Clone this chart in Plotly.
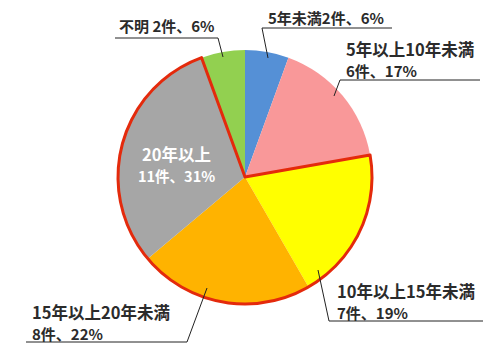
import plotly.graph_objects as go

# Data
categories = ["5年未満", "5年以上10年未満", "10年以上15年未満", "15年以上20年未満", "20年以上", "不明"]
counts = [2, 6, 7, 8, 11, 2]
percents = [6, 17, 19, 22, 31, 6]
colors = ["#5590D6", "#F99899", "#FFFF00", "#FFB300", "#A6A6A6", "#92D050"]
# slices enclosed by the red outline (10年以上 group)
highlight = [False, False, True, True, True, False]

W, H = 490, 360
def px(x):
    return x / W
def py(y):
    return 1 - y / H

cx, cy, r = 245, 177, 127
domain = dict(x=[px(cx - r), px(cx + r)], y=[py(cy + r), py(cy - r)])

fig = go.Figure()
fig.add_trace(go.Pie(
    values=counts, labels=categories, sort=False, direction="clockwise", rotation=0,
    marker=dict(colors=colors, line=dict(width=0)),
    textinfo="none", hoverinfo="label+value+percent", showlegend=False, domain=domain,
))

# Red outline around the highlighted group, built from the same data
groups = []
for v, h in zip(counts, highlight):
    if groups and groups[-1][1] == h:
        groups[-1][0] += v
    else:
        groups.append([v, h])
fig.add_trace(go.Pie(
    values=[g[0] for g in groups], sort=False, direction="clockwise", rotation=0,
    marker=dict(colors=["rgba(0,0,0,0)"] * len(groups),
                line=dict(color=["#E42A0C" if g[1] else "rgba(0,0,0,0)" for g in groups],
                          width=[3 if g[1] else 0 for g in groups])),
    textinfo="none", hoverinfo="skip", showlegend=False, domain=domain,
))

font = "Noto Sans CJK JP, Noto Sans, sans-serif"
txt = "#2b2b2b"

def label(x, y, text, size, color=txt, anchor="left"):
    fig.add_annotation(x=px(x), y=py(y), xref="paper", yref="paper", text=f"<b>{text}</b>",
                       showarrow=False, xanchor=anchor, yanchor="middle",
                       font=dict(family=font, size=size, color=color))

def label2(x, y, line1, line2, s1, s2, color=txt, anchor="left", base=16):
    text = (f"<span style='font-size:{s1}px'><b>{line1}</b></span><br>"
            f"<span style='font-size:{s2}px'><b>{line2}</b></span>")
    fig.add_annotation(x=px(x), y=py(y), xref="paper", yref="paper", text=text,
                       showarrow=False, xanchor=anchor, yanchor="middle", align=anchor,
                       font=dict(family=font, size=base, color=color))

def leader(pts):
    for (x0, y0), (x1, y1) in zip(pts[:-1], pts[1:]):
        fig.add_shape(type="line", xref="paper", yref="paper",
                      x0=px(x0), y0=py(y0), x1=px(x1), y1=py(y1),
                      line=dict(color="#222222", width=1))

c = [f"{n}件、{p}%" for n, p in zip(counts, percents)]

# 5年未満
label(266, 17, categories[0] + c[0], 15)
leader([(392, 28), (262, 28), (268, 58)])
# 5年以上10年未満
label2(344, 59.5, categories[1], c[1], 16.5, 15)
leader([(480, 80), (340, 80), (334, 96)])
# 10年以上15年未満
label2(335, 301, categories[2], c[2], 16.5, 15)
leader([(318, 270), (329, 321), (483, 321)])
# 15年以上20年未満
label2(30, 322, categories[3], c[3], 16.5, 15)
leader([(26, 342), (187, 342), (207, 288)])
# 20年以上 (inside)
label2(176, 164, categories[4], c[4], 16.5, 14.5, color="white", anchor="center")
# 不明
label(117, 26, categories[5] + " " + c[5], 15)
leader([(115, 38), (218, 38), (223, 57)])

fig.update_layout(width=W, height=H, margin=dict(l=0, r=0, t=0, b=0),
                  paper_bgcolor="white", plot_bgcolor="white")
fig.write_html("out.html", config={"displayModeBar": False},
               post_script="document.body.style.margin='0';")
